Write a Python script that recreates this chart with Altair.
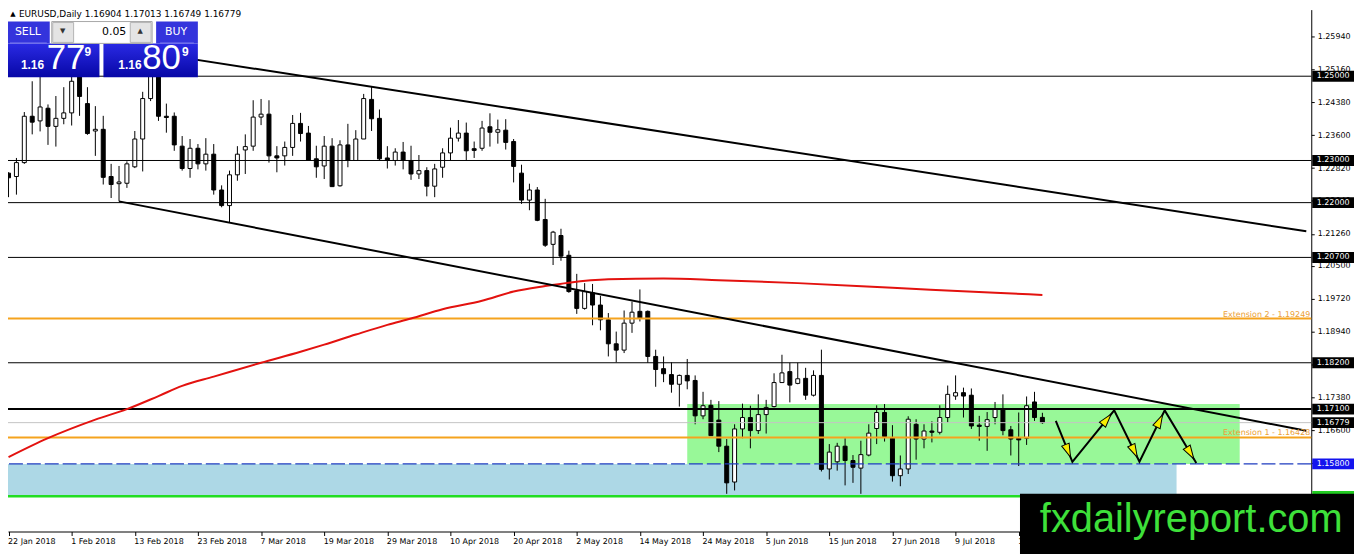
import math
import altair as alt
import numpy as np
import pandas as pd

# ---------------- data ----------------
opens = [
    1.2270, 1.2262, 1.2295, 1.2405, 1.2394, 1.2424, 1.2381, 1.2400, 1.2413, 1.2507,
    1.2435, 1.2370, 1.2374, 1.2262, 1.2245, 1.2246, 1.2285, 1.2351, 1.2447, 1.2505,
    1.2405, 1.2405, 1.2334, 1.2281, 1.2329, 1.2292, 1.2315, 1.2230, 1.2193, 1.2266,
    1.2325, 1.2334, 1.2403, 1.2410, 1.2311, 1.2311, 1.2331, 1.2388, 1.2365, 1.2304,
    1.2287, 1.2334, 1.2240, 1.2337, 1.2300, 1.2351, 1.2445, 1.2400, 1.2306, 1.2300,
    1.2320, 1.2300, 1.2268, 1.2276, 1.2239, 1.2284, 1.2318, 1.2353, 1.2365, 1.2328,
    1.2329, 1.2380, 1.2367, 1.2372, 1.2345, 1.2270, 1.2206, 1.2230, 1.2160, 1.2101,
    1.2122, 1.2075, 1.1991, 1.1949, 1.1986, 1.1957, 1.1922, 1.1865, 1.1850, 1.1914,
    1.1942, 1.1942, 1.1835, 1.1806, 1.1792, 1.1769, 1.1790, 1.1778, 1.1694, 1.1719,
    1.1684, 1.1622, 1.1537, 1.1663, 1.1690, 1.1659, 1.1697, 1.1716, 1.1773, 1.1799,
    1.1771, 1.1783, 1.1743, 1.1790, 1.1568, 1.1585, 1.1622, 1.1588, 1.1570, 1.1601,
    1.1664, 1.1702, 1.1641, 1.1552, 1.1568, 1.1674, 1.1639, 1.1658, 1.1655, 1.1690,
    1.1741, 1.1749, 1.1743, 1.1672, 1.1669, 1.1690, 1.1710, 1.1661, 1.1641, 1.1641,
    1.1727, 1.16904,
]
highs = [
    1.2272, 1.2306, 1.2415, 1.2488, 1.2500, 1.2433, 1.2453, 1.2474, 1.2535, 1.2547,
    1.2474, 1.2429, 1.2406, 1.2292, 1.2287, 1.2298, 1.2370, 1.2463, 1.2525, 1.2555,
    1.2435, 1.2414, 1.2358, 1.2351, 1.2339, 1.2353, 1.2339, 1.2241, 1.2276, 1.2334,
    1.2362, 1.2443, 1.2446, 1.2443, 1.2334, 1.2345, 1.2408, 1.2413, 1.2382, 1.2335,
    1.2358, 1.2353, 1.2348, 1.2387, 1.2372, 1.2458, 1.2476, 1.2421, 1.2334, 1.2329,
    1.2344, 1.2335, 1.2313, 1.2284, 1.2292, 1.2329, 1.2378, 1.2396, 1.2390, 1.2345,
    1.2394, 1.2412, 1.2397, 1.2398, 1.2351, 1.2290, 1.2245, 1.2237, 1.2209, 1.2133,
    1.2138, 1.2086, 1.2031, 1.2009, 1.2007, 1.1979, 1.1938, 1.1894, 1.1944, 1.1965,
    1.1994, 1.1944, 1.1851, 1.1835, 1.1821, 1.1792, 1.1829, 1.1790, 1.1751, 1.1732,
    1.1729, 1.1639, 1.1674, 1.1723, 1.1718, 1.1745, 1.1732, 1.1795, 1.1839, 1.1820,
    1.1820, 1.1808, 1.1802, 1.1851, 1.1627, 1.1630, 1.1641, 1.1601, 1.1635, 1.1674,
    1.1719, 1.1722, 1.1672, 1.1600, 1.1693, 1.1686, 1.1674, 1.1681, 1.1719, 1.1766,
    1.1790, 1.1761, 1.1759, 1.1694, 1.1703, 1.1727, 1.1745, 1.1670, 1.1702, 1.1740,
    1.1751, 1.17013,
]
lows = [
    1.2213, 1.2219, 1.2292, 1.2362, 1.2369, 1.2337, 1.2333, 1.2386, 1.2383, 1.2406,
    1.2361, 1.2311, 1.2243, 1.2211, 1.2203, 1.2235, 1.2282, 1.2274, 1.2441, 1.2394,
    1.2366, 1.2323, 1.2276, 1.2259, 1.2279, 1.2276, 1.2219, 1.2189, 1.2154, 1.2252,
    1.2268, 1.2323, 1.2384, 1.2295, 1.2272, 1.2288, 1.2311, 1.2345, 1.2300, 1.2259,
    1.2256, 1.2237, 1.2238, 1.2284, 1.2300, 1.2351, 1.2370, 1.2300, 1.2281, 1.2288,
    1.2279, 1.2254, 1.2256, 1.2215, 1.2213, 1.2259, 1.2300, 1.2345, 1.2300, 1.2306,
    1.2323, 1.2333, 1.2340, 1.2326, 1.2248, 1.2197, 1.2182, 1.2156, 1.2095, 1.2052,
    1.2062, 1.1986, 1.1936, 1.1946, 1.1909, 1.1897, 1.1835, 1.1821, 1.1843, 1.1891,
    1.1918, 1.1820, 1.1763, 1.1774, 1.1749, 1.1716, 1.1757, 1.1674, 1.1686, 1.1647,
    1.1608, 1.1509, 1.1517, 1.1641, 1.1617, 1.1651, 1.1652, 1.1714, 1.1773, 1.1726,
    1.1769, 1.1732, 1.1740, 1.1562, 1.1543, 1.1564, 1.1529, 1.1535, 1.1509, 1.1598,
    1.1627, 1.1633, 1.1538, 1.1527, 1.1556, 1.1590, 1.1617, 1.1631, 1.1650, 1.1678,
    1.1732, 1.1690, 1.1663, 1.1635, 1.1611, 1.1674, 1.1648, 1.1600, 1.1575, 1.1625,
    1.1682, 1.16749,
]
closes = [
    1.2259, 1.2295, 1.2405, 1.2391, 1.2427, 1.2381, 1.2400, 1.2413, 1.2488, 1.2452,
    1.2364, 1.2374, 1.2260, 1.2243, 1.2249, 1.2292, 1.2351, 1.2447, 1.2505, 1.2405,
    1.2402, 1.2337, 1.2281, 1.2329, 1.2292, 1.2315, 1.2230, 1.2193, 1.2266, 1.2315,
    1.2333, 1.2403, 1.2410, 1.2311, 1.2306, 1.2331, 1.2388, 1.2364, 1.2300, 1.2285,
    1.2334, 1.2238, 1.2337, 1.2300, 1.2351, 1.2447, 1.2399, 1.2304, 1.2300, 1.2320,
    1.2300, 1.2268, 1.2276, 1.2239, 1.2280, 1.2318, 1.2353, 1.2365, 1.2323, 1.2324,
    1.2377, 1.2367, 1.2373, 1.2343, 1.2286, 1.2206, 1.2230, 1.2158, 1.2099, 1.2130,
    1.2073, 1.1989, 1.1949, 1.1989, 1.1957, 1.1922, 1.1865, 1.1850, 1.1914, 1.1940,
    1.1926, 1.1835, 1.1804, 1.1794, 1.1769, 1.1790, 1.1777, 1.1694, 1.1718, 1.1647,
    1.1622, 1.1535, 1.1663, 1.1690, 1.1659, 1.1697, 1.1714, 1.1773, 1.1796, 1.1767,
    1.1782, 1.1743, 1.1790, 1.1567, 1.1608, 1.1622, 1.1588, 1.1572, 1.1602, 1.1653,
    1.1702, 1.1645, 1.1552, 1.1568, 1.1686, 1.1639, 1.1658, 1.1655, 1.1690, 1.1745,
    1.1749, 1.1741, 1.1670, 1.1669, 1.1685, 1.1710, 1.1659, 1.1639, 1.1637, 1.1718,
    1.1690, 1.16779,
]

date_labels = ["22 Jan 2018", "1 Feb 2018", "13 Feb 2018", "23 Feb 2018", "7 Mar 2018",
               "19 Mar 2018", "29 Mar 2018", "10 Apr 2018", "20 Apr 2018", "2 May 2018",
               "14 May 2018", "24 May 2018", "5 Jun 2018", "15 Jun 2018", "27 Jun 2018",
               "9 Jul 2018", "19 Jul 2018"]
label_step = 8

price_ticks = [1.2594, 1.2516, 1.2438, 1.2360, 1.2282, 1.2204, 1.2126, 1.2050,
               1.1972, 1.1894, 1.1816, 1.1738, 1.1660, 1.1582]

ma_bars = [0, 5, 11, 15, 19, 22, 26, 32, 37, 40, 44, 48, 51, 55, 60, 64, 68, 71, 76, 83,
           90, 100, 112, 125, 131]
ma_vals = [1.1596, 1.1641, 1.1685, 1.1710, 1.1741, 1.1765, 1.1787, 1.1820, 1.1846, 1.1863,
           1.1887, 1.1910, 1.1925, 1.1947, 1.1967, 1.1989, 1.2002, 1.2010, 1.2018, 1.2020,
           1.2016, 1.2009, 1.1998, 1.1986, 1.1981]

black_levels = [1.25, 1.23, 1.22, 1.207, 1.182]
level_thick = 1.171
bid_level = 1.16779
ext_levels = [1.19249, 1.16428]
ext_texts = ["Extension 2 - 1.19249", "Extension 1 - 1.16428"]
support_level = 1.158
floor_level = 1.1503

zone_b1 = [86, -5]
zone_b2 = [156, 148]
zone_p1 = [1.158, 1.1503]
zone_p2 = [1.1722, 1.158]
zone_cols = ["#98f898", "#add8e6"]

tl_names = ["upper", "upper", "lower", "lower"]
tl_bars = [18, 164.44, 14, 164.44]
tl_prices = [1.2556, 1.2132, 1.2203, 1.16585]

arrow_bars = [132.7, 134.8, 140.1, 143.3, 146.5, 150.5]
arrow_prices = [1.1682, 1.1585, 1.1707, 1.1585, 1.1707, 1.1582]

box_levels = [1.25, 1.23, 1.22, 1.207, 1.182, 1.171, 1.16779, 1.158, 1.1503]
box_colors = ["black"] * 7 + ["#1414ee", "#22cc22"]
box_shown = [True] * 8 + [False]

header = "EURUSD,Daily 1.16904 1.17013 1.16749 1.16779"

# ---------------- layout ----------------
W, H = 1311, 525
PX_BAR = 8.0
X0 = 0.5625
Y_TOP, Y_BOT = 1.265806, 1.141955
PX_PRICE = H / (Y_TOP - Y_BOT)
OFF = 8  # page margin -> plot coordinates

xs = alt.Scale(domain=[X0, X0 + W / PX_BAR], nice=False, zero=False)
ys = alt.Scale(domain=[Y_BOT, Y_TOP], nice=False, zero=False)

arr = "[" + ",".join("'%s'" % s for s in date_labels) + "]"
XA = alt.Axis(orient="bottom", values=[i * label_step for i in range(len(date_labels))],
              labelExpr=f"{arr}[round(datum.value/{label_step})]", labelAlign="left",
              labelBaseline="top", labelFlush=False, labelOverlap=False, labelOffset=-1,
              labelFont="DejaVu Sans", labelFontSize=8, labelColor="black", labelPadding=2,
              tickSize=4, tickColor="black", domainColor="black", grid=False, title=None)
YA = alt.Axis(orient="right", values=price_ticks, format=".5f", labelFont="DejaVu Sans",
              labelFontSize=8, labelColor="black", labelPadding=3, tickSize=3,
              tickColor="black", domainColor="black", grid=False, title=None,
              labelOverlap=False, labelFlush=False)


def X(f):
    return alt.X(f, type="quantitative", scale=xs, axis=XA)


def Y(f):
    return alt.Y(f, type="quantitative", scale=ys, axis=YA)


one = pd.DataFrame({"a": [0]})

cdf = pd.DataFrame({"idx": list(range(len(opens))), "o": opens, "h": highs, "l": lows, "c": closes})
cdf["dir"] = np.where(cdf["c"] < cdf["o"], "down", "up")

zones = alt.Chart(pd.DataFrame({"b1": zone_b1, "b2": zone_b2, "p1": zone_p1, "p2": zone_p2,
                                "col": zone_cols})).mark_rect(clip=True).encode(
    x=X("b1"), x2="b2", y=Y("p1"), y2="p2", color=alt.Color("col:N", scale=None))

wicks = alt.Chart(cdf).mark_rule(color="black", strokeWidth=1, clip=True).encode(
    x=X("idx"), y=Y("l"), y2="h")
bodies = alt.Chart(cdf).mark_bar(size=4, stroke="black", strokeWidth=1, clip=True).encode(
    x=X("idx"), y=Y("o"), y2="c",
    fill=alt.Fill("dir:N", scale=alt.Scale(domain=["up", "down"], range=["white", "black"]),
                  legend=None))


def hline(levels, **kw):
    return alt.Chart(pd.DataFrame({"p": levels})).mark_rule(**kw).encode(y=Y("p"))


lines = [
    hline(black_levels, color="black", strokeWidth=1),
    hline([level_thick], color="black", strokeWidth=2),
    hline([bid_level], color="#c4c4c4", strokeWidth=1),
    hline(ext_levels, color="#f5a31e", strokeWidth=2),
    hline([support_level], color="#1f3cc0", strokeWidth=1.3, strokeDash=[14, 4]),
    hline([floor_level], color="#22dd22", strokeWidth=2.5),
]

ma = alt.Chart(pd.DataFrame({"b": ma_bars, "p": ma_vals})).mark_line(
    color="#e3120f", strokeWidth=2, clip=True, interpolate="monotone").encode(
    x=X("b"), y=Y("p"))

tls = alt.Chart(pd.DataFrame({"g": tl_names, "b": tl_bars, "p": tl_prices})).mark_line(
    color="black", strokeWidth=2, clip=True).encode(x=X("b"), y=Y("p"), detail="g:N")

adf = pd.DataFrame({"o": list(range(len(arrow_bars))), "b": arrow_bars, "p": arrow_prices})
arrow_path = alt.Chart(adf).mark_line(color="black", strokeWidth=2, clip=True).encode(
    x=X("b"), y=Y("p"), order="o:Q")

heads = []
for i in range(1, len(arrow_bars)):
    dxp = (arrow_bars[i] - arrow_bars[i - 1]) * PX_BAR
    dyp = -(arrow_prices[i] - arrow_prices[i - 1]) * PX_PRICE
    ln = math.hypot(dxp, dyp)
    back = 13.0 / ln
    hb = arrow_bars[i] - (arrow_bars[i] - arrow_bars[i - 1]) * back
    hp = arrow_prices[i] - (arrow_prices[i] - arrow_prices[i - 1]) * back
    ang = (math.degrees(math.atan2(dxp, -dyp)) + 360) % 360
    heads.append({"b": hb, "p": hp, "ang": ang})
arrow_heads = alt.Chart(pd.DataFrame(heads)).mark_point(
    shape="M0,-1L0.5,0.7L-0.5,0.7Z", size=260, filled=True, fill="#f7ee00",
    stroke="black", strokeWidth=1, opacity=1).encode(
    x=X("b"), y=Y("p"), angle=alt.Angle("ang:Q", scale=None))

ext_lab = alt.Chart(pd.DataFrame({"p": ext_levels, "t": ext_texts})).mark_text(
    align="right", baseline="alphabetic", dy=-2, font="DejaVu Sans", fontSize=8,
    color="#eba035").encode(x=alt.value(W - 1), y=Y("p"), text="t:N")

bdf = pd.DataFrame({"p": box_levels, "col": box_colors, "shown": box_shown,
                    "t": ["%.5f" % v for v in box_levels]})
boxes = alt.Chart(bdf).mark_tick(orient="horizontal", size=42, thickness=11, opacity=1).encode(
    x=alt.value(1341 - OFF), y=Y("p"), color=alt.Color("col:N", scale=None))
box_txt = alt.Chart(bdf[bdf["shown"]]).mark_text(font="DejaVu Sans", fontSize=8, color="white",
                                                 align="center", baseline="middle").encode(
    x=alt.value(1341 - OFF), y=Y("p"), text="t:N")


def rect(x1, x2, y1, y2, **kw):
    return alt.Chart(one).mark_rect(x=x1 - OFF, x2=x2 - OFF, y=y1 - OFF, y2=y2 - OFF, **kw)


def txt(s, x, y, size, color="white", font="DejaVu Sans", weight="normal", align="left",
        baseline="middle"):
    return alt.Chart(one).mark_text(text=s, x=x - OFF, y=y - OFF, fontSize=size, color=color,
                                    font=font, fontWeight=weight, align=align,
                                    baseline=baseline)


grad = {"gradient": "linear", "x1": 0, "y1": 0, "x2": 0, "y2": 1,
        "stops": [{"offset": 0, "color": "#2a2ae4"}, {"offset": 1, "color": "#0707a6"}]}

panel = [
    rect(6, 100, 42, 76, color=grad),
    rect(104, 199, 42, 76, color=grad),
    rect(6, 50, 20, 42, color="#3434dc"),
    rect(157, 199, 20, 42, color="#3434dc"),
    rect(52, 153, 20, 42, fill="white", stroke="#a8a8a8", strokeWidth=1),
    rect(53, 74, 21, 41, fill="#e4e4e4", stroke="#b4b4b4", strokeWidth=1),
    rect(131, 152, 21, 41, fill="#e4e4e4", stroke="#b4b4b4", strokeWidth=1),
    rect(10, 47, 41, 42, color="#7a7af0"),
    rect(161, 195, 41, 42, color="#7a7af0"),
    txt("SELL", 28, 31, 11, align="center"),
    txt("BUY", 177, 31, 11, align="center"),
    txt("▼", 63, 30, 7, color="#333333", align="center"),
    txt("▲", 141, 30, 7, color="#333333", align="center"),
    txt("0.05", 127, 31, 11, color="black", align="right"),
    txt("1.16", 21, 68, 12, font="Liberation Sans", weight="bold", baseline="alphabetic"),
    txt("77", 47, 68, 35, font="Liberation Sans", baseline="alphabetic"),
    txt("9", 85, 55, 12, font="Liberation Sans", weight="bold", baseline="alphabetic"),
    txt("1.16", 119, 68, 12, font="Liberation Sans", weight="bold", baseline="alphabetic"),
    txt("80", 143, 68, 35, font="Liberation Sans", baseline="alphabetic"),
    txt("9", 183, 55, 12, font="Liberation Sans", weight="bold", baseline="alphabetic"),
    txt("▲", 13, 12, 7, color="black", align="center"),
    txt(header, 19, 12, 9, color="black"),
]

watermark = [
    rect(1026, 1370, 495, 560, color="black"),
    txt("fxdailyreport.com", 1046, 533, 40, color="#3ee03a", font="Liberation Sans",
        baseline="alphabetic"),
]

chart = alt.layer(
    zones, wicks, bodies, *lines, ma, tls, arrow_path, arrow_heads, ext_lab, boxes, box_txt,
    *panel, *watermark
).properties(
    width=W, height=H, autosize="none",
    padding={"left": 0, "top": 0, "right": 43, "bottom": 21},
    background="white",
).configure_view(stroke=None)

chart.save("out.html", embed_options={"renderer": "svg", "actions": False})
